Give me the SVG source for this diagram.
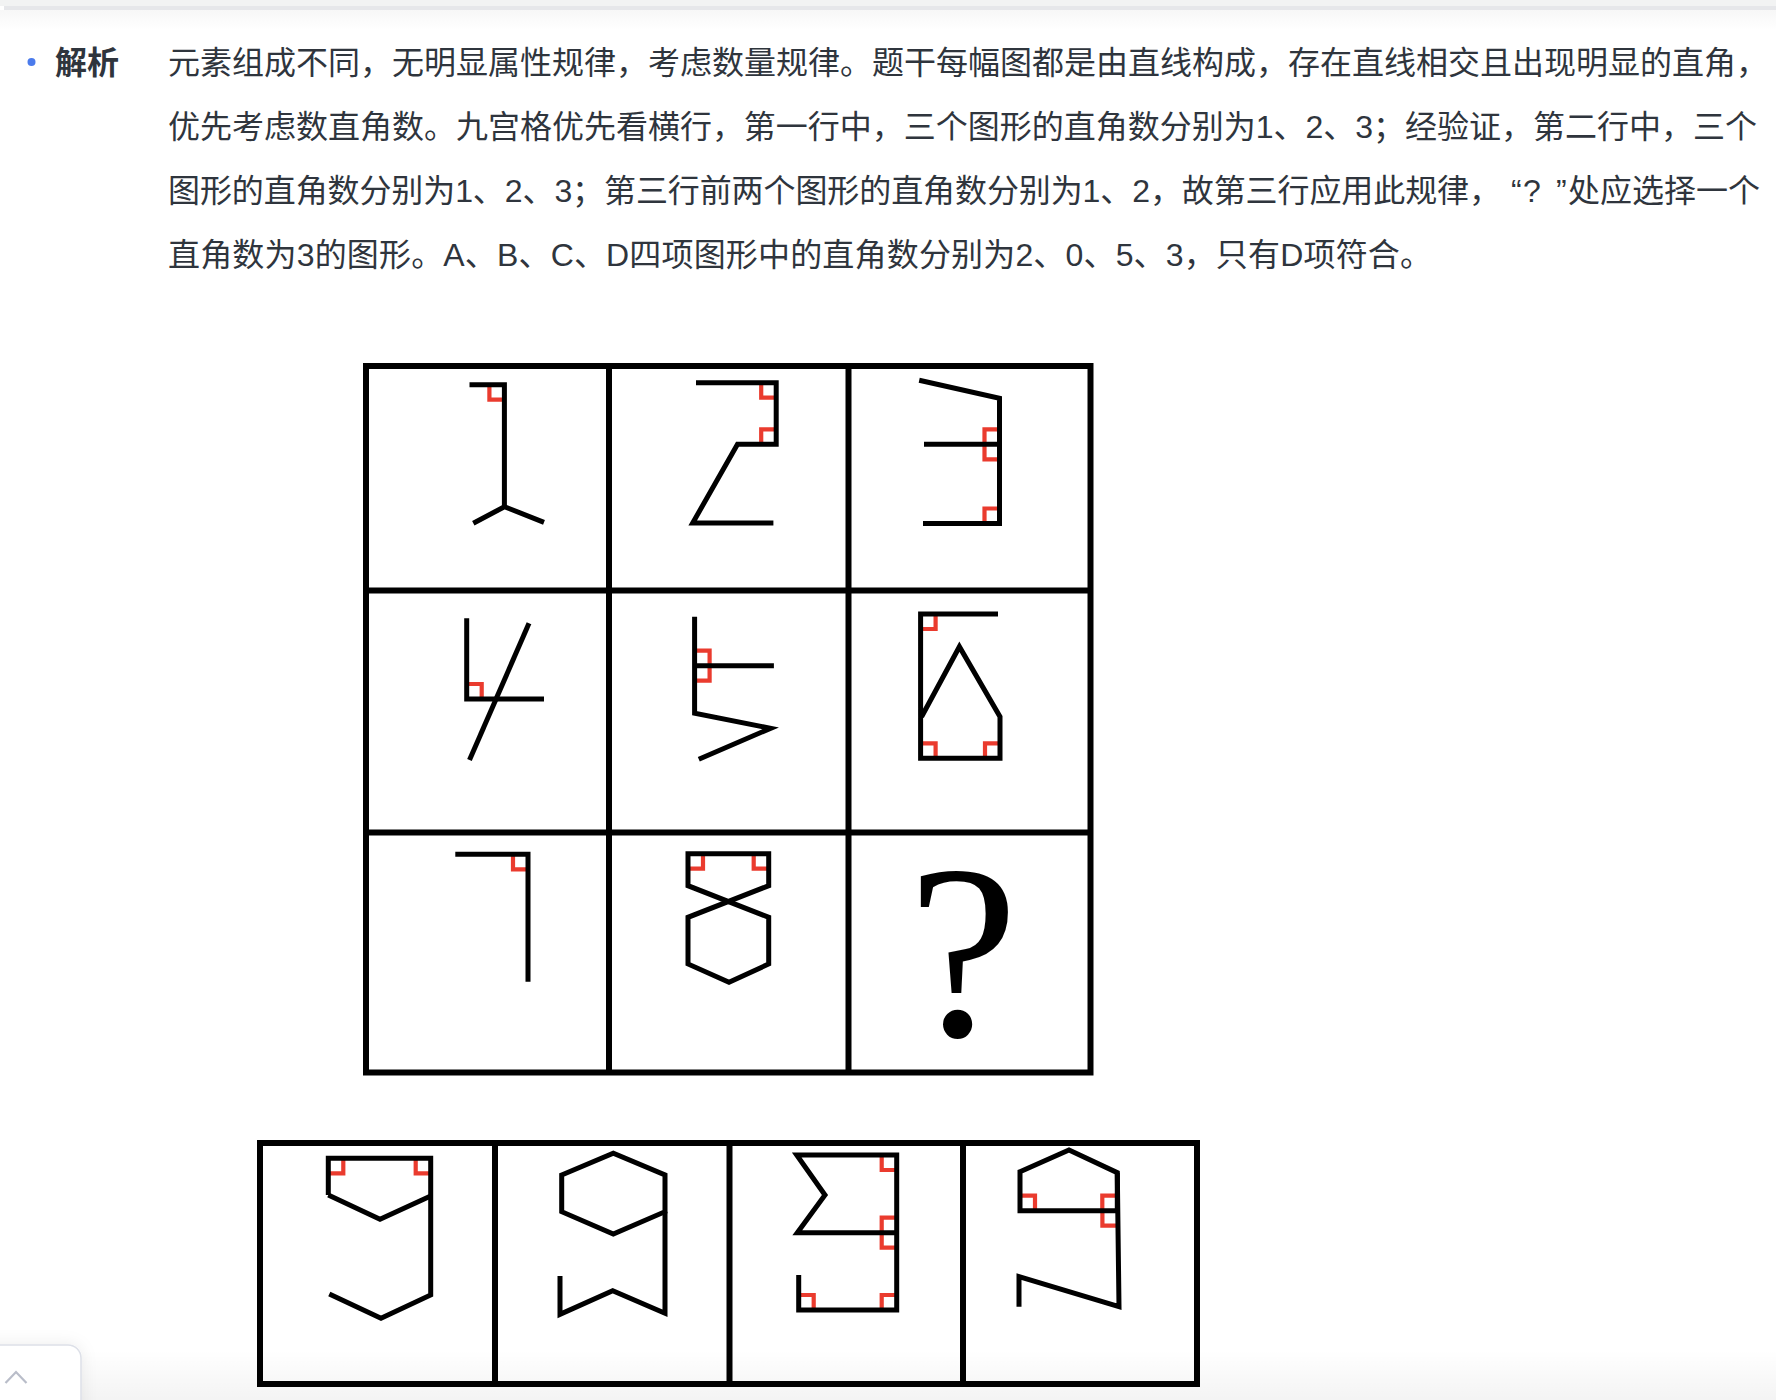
<svg xmlns="http://www.w3.org/2000/svg" width="1776" height="1400" viewBox="0 0 1776 1400">
<style>
.txt{font-family:"Liberation Sans","Noto Sans CJK SC",sans-serif;font-size:32px;fill:#2f353d}
.lbl{font-family:"Noto Sans CJK SC","Liberation Sans",sans-serif;font-size:32px;font-weight:bold;fill:#2f353d}
.grid{fill:none;stroke:#000;stroke-width:6}
.fig{fill:none;stroke:#000;stroke-width:5;stroke-linejoin:miter;stroke-linecap:butt}
.mk{fill:none;stroke:#ea3b2e;stroke-width:4.2;stroke-linecap:butt;stroke-linejoin:miter}
</style>
<defs>
<linearGradient id="topg" x1="0" y1="0" x2="0" y2="1"><stop offset="0" stop-color="#f7f7f7"/><stop offset="1" stop-color="#ffffff"/></linearGradient>
<linearGradient id="botg" x1="0" y1="0" x2="0" y2="1"><stop offset="0" stop-color="#000" stop-opacity="0"/><stop offset="1" stop-color="#000" stop-opacity="0.045"/></linearGradient>
<filter id="sh" x="-50%" y="-50%" width="200%" height="200%"><feDropShadow dx="0" dy="0" stdDeviation="8" flood-color="#000" flood-opacity="0.08"/></filter>
</defs>
<rect width="1776" height="1400" fill="#fff"/>
<g id="topbar">
<rect x="0" y="0" width="1776" height="6" fill="#f2f3f3"/>
<rect x="4" y="6" width="1772" height="4" fill="#e6e7ea"/>
<rect x="0" y="10" width="1776" height="20" fill="url(#topg)"/>
</g>
<g id="analysis">
<circle cx="31.5" cy="62" r="4" fill="#4b7bec"/>
<text class="lbl" x="55" y="74">解析</text>
<text class="txt" x="168" y="74" textLength="1600" lengthAdjust="spacing">元素组成不同，无明显属性规律，考虑数量规律。题干每幅图都是由直线构成，存在直线相交且出现明显的直角，</text>
<text class="txt" x="168" y="138" textLength="1589" lengthAdjust="spacing">优先考虑数直角数。九宫格优先看横行，第一行中，三个图形的直角数分别为1、2、3；经验证，第二行中，三个</text>
<text class="txt" y="202"><tspan x="168" textLength="1333" lengthAdjust="spacing">图形的直角数分别为1、2、3；第三行前两个图形的直角数分别为1、2，故第三行应用此规律，</tspan><tspan x="1511">“</tspan><tspan x="1523">?</tspan><tspan x="1556">”</tspan><tspan x="1568" textLength="192" lengthAdjust="spacing">处应选择一个</tspan></text>
<text class="txt" x="168" y="266" textLength="1264" lengthAdjust="spacing">直角数为3的图形。A、B、C、D四项图形中的直角数分别为2、0、5、3，只有D项符合。</text>
</g>
<g id="grid">
<rect class="grid" x="366" y="366" width="724.5" height="706.5"/>
<line class="grid" x1="609" y1="366" x2="609" y2="1072.5"/>
<line class="grid" x1="848.5" y1="366" x2="848.5" y2="1072.5"/>
<line class="grid" x1="366" y1="590.5" x2="1090.5" y2="590.5"/>
<line class="grid" x1="366" y1="832.5" x2="1090.5" y2="832.5"/>
</g>
<g id="cell1">
<path class="mk" d="M489.4 384.7 L489.4 399.7 L504.4 399.7"/>
<polyline class="fig" points="469.5,384.7 504.4,384.7 504.4,506.7"/>
<polyline class="fig" points="473.3,523.3 504.4,506.7 544,522.3"/>
</g>
<g id="cell2">
<path class="mk" d="M761.2 382.7 L761.2 397.7 L776.2 397.7"/>
<path class="mk" d="M776.2 429.3 L761.2 429.3 L761.2 444.3"/>
<polyline class="fig" points="696,382.7 776.2,382.7 776.2,444.3 737.5,444.3 692.7,523 773.4,523"/>
</g>
<g id="cell3">
<path class="mk" d="M999.5 429.3 L984.5 429.3 L984.5 444.3"/>
<path class="mk" d="M999.5 459.3 L984.5 459.3 L984.5 444.3"/>
<path class="mk" d="M999.5 508.5 L984.5 508.5 L984.5 523.5"/>
<polyline class="fig" points="919.2,380.3 999.5,398.3 999.5,523.5 923,523.5"/>
<line class="fig" x1="924" y1="444.3" x2="999.5" y2="444.3"/>
</g>
<g id="cell4">
<path class="mk" d="M466.7 684 L481.7 684 L481.7 699"/>
<polyline class="fig" points="466.7,618.3 466.7,699 544,699"/>
<line class="fig" x1="529" y1="623.3" x2="469.5" y2="760"/>
</g>
<g id="cell5">
<path class="mk" d="M694.6 650.7 L709.6 650.7 L709.6 665.7"/>
<path class="mk" d="M694.6 680.7 L709.6 680.7 L709.6 665.7"/>
<polyline class="fig" points="694.6,616.7 694.6,713.3 770.6,728.3 698.8,759.3"/>
<line class="fig" x1="694.6" y1="665.7" x2="773.9" y2="665.7"/>
</g>
<g id="cell6">
<path class="mk" d="M935.6 614 L935.6 629 L920.6 629"/>
<path class="mk" d="M920.6 743.3 L935.6 743.3 L935.6 758.3"/>
<path class="mk" d="M1000 743.3 L985 743.3 L985 758.3"/>
<polyline class="fig" points="998,614 920.6,614 920.6,758.3 1000,758.3 1000,716.7 959.4,646.7 921.6,716.7"/>
</g>
<g id="cell7">
<path class="mk" d="M513 854.3 L513 869.3 L528 869.3"/>
<polyline class="fig" points="455.3,854.3 528,854.3 528,981.7"/>
</g>
<g id="cell8">
<path class="mk" d="M703 853.7 L703 868.7 L688 868.7"/>
<path class="mk" d="M753.7 853.7 L753.7 868.7 L768.7 868.7"/>
<polygon class="fig" points="688,885.7 688,853.7 768.7,853.7 768.7,885.7 688,917.3 688,964 729,982.3 768.7,964 768.7,917.3"/>
</g>
<g id="cell9">
<text x="963" y="1035" text-anchor="middle" font-family="Liberation Serif, serif" font-size="248" fill="#000">?</text>
</g>
<g id="options">
<rect class="grid" x="260" y="1143" width="937" height="241"/>
<line class="grid" x1="495" y1="1143" x2="495" y2="1384"/>
<line class="grid" x1="729.5" y1="1143" x2="729.5" y2="1384"/>
<line class="grid" x1="963" y1="1143" x2="963" y2="1384"/>
</g>
<g id="optA">
<path class="mk" d="M343.3 1158.3 L343.3 1173.3 L328.3 1173.3"/>
<path class="mk" d="M415.7 1158.3 L415.7 1173.3 L430.7 1173.3"/>
<polyline class="fig" points="328.3,1195 328.3,1158.3 430.7,1158.3 430.7,1295 381,1318.3 329.3,1294"/>
<polyline class="fig" points="328.3,1195 380,1219.3 430.7,1196"/>
</g>
<g id="optB">
<polygon class="fig" points="561.7,1175 613.3,1153.3 665,1175 665,1211.7 613.3,1234 561.7,1211.7"/>
<polyline class="fig" points="665,1211.7 665,1313.3 612.7,1290.7 560,1314.3 560,1276"/>
</g>
<g id="optC">
<path class="mk" d="M881.7 1155 L881.7 1170 L896.7 1170"/>
<path class="mk" d="M896.7 1217.7 L881.7 1217.7 L881.7 1232.7"/>
<path class="mk" d="M896.7 1247.7 L881.7 1247.7 L881.7 1232.7"/>
<path class="mk" d="M798.7 1295 L813.7 1295 L813.7 1310"/>
<path class="mk" d="M896.7 1295 L881.7 1295 L881.7 1310"/>
<polyline class="fig" points="896.7,1232.7 797.3,1232.7 825,1195 796.7,1155 896.7,1155 896.7,1310 798.7,1310 798.7,1275"/>
</g>
<g id="optD">
<path class="mk" d="M1020 1195.7 L1035 1195.7 L1035 1210.7"/>
<path class="mk" d="M1117.3 1195.7 L1102.3 1195.7 L1102.3 1210.7"/>
<path class="mk" d="M1117.4 1225.7 L1102.4 1225.7 L1102.4 1210.7"/>
<polygon class="fig" points="1020,1171.7 1069,1150 1117.3,1172.7 1117.3,1210.7 1020,1210.7"/>
<polyline class="fig" points="1117.3,1172.7 1119,1306.7 1019,1276.7 1019,1306.7"/>
</g>
<rect x="0" y="1350" width="1776" height="50" fill="url(#botg)"/>
<g id="backtop">
<rect x="-20" y="1345" width="101" height="80" rx="13" fill="#fff" stroke="#dde0e8" stroke-width="1.5" filter="url(#sh)"/>
<polyline points="5.5,1383 16,1372 26.5,1383" fill="none" stroke="#b9bdc9" stroke-width="2.2"/>
</g>
</svg>
